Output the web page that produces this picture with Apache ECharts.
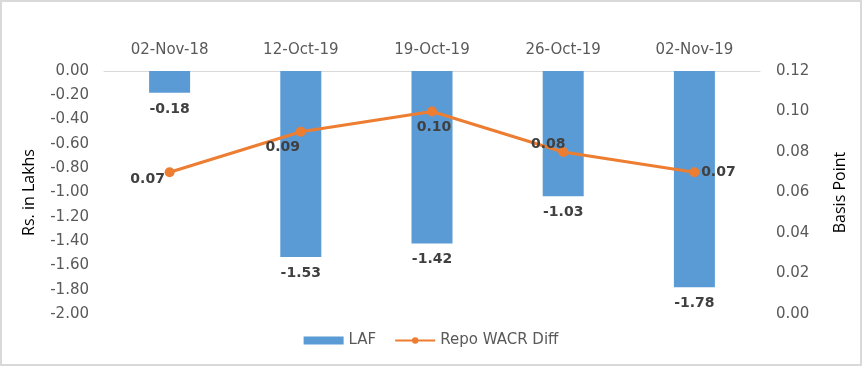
<!DOCTYPE html>
<html>
<head>
<meta charset="utf-8">
<script src="https://cdn.jsdelivr.net/npm/echarts@6/dist/echarts.min.js"></script>
<style>
html,body{margin:0;padding:0;background:#fff;}
#wrap{position:absolute;left:0;top:0;width:858px;height:362px;border:2px solid #d9d9d9;}
#chart{width:858px;height:362px;}
</style>
</head>
<body>
<div id="wrap"><div id="chart"></div></div>
<script>
const categories = ['02-Nov-18', '12-Oct-19', '19-Oct-19', '26-Oct-19', '02-Nov-19'];
const lafValues = [-0.18, -1.53, -1.42, -1.03, -1.78];
const repoWacrDiff = [0.07, 0.09, 0.10, 0.08, 0.07];
const leftTicks = { min: -2.0, max: 0, interval: 0.2 };
const rightTicks = { min: 0, max: 0.12, interval: 0.02 };

const lineLabelOffsets = [[-22, 7], [-18, 16], [2, 16], [-15, -8], [24, 0]];

const font = 'DejaVu Sans';
const titleFont = 'Open Sans';
const chart = echarts.init(document.getElementById('chart'), null, {renderer: 'canvas'});
chart.setOption({
  animation: false,
  textStyle: { fontFamily: font },
  grid: { left: 102, right: 100, top: 69, bottom: 50 },
  legend: {
    bottom: 11, left: 'center', itemGap: 18, itemWidth: 40, itemHeight: 8,
    textStyle: { fontFamily: font, fontSize: 15, color: '#595959' },
    data: [
      { name: 'LAF', icon: 'rect' },
      { name: 'Repo WACR Diff' }
    ]
  },
  xAxis: {
    type: 'category', position: 'top', data: categories,
    axisLine: { show: true, lineStyle: { color: '#d9d9d9', width: 1 } },
    axisTick: { show: false },
    axisLabel: { color: '#595959', fontSize: 15, margin: 13, fontFamily: font }
  },
  yAxis: [
    {
      type: 'value', min: leftTicks.min, max: leftTicks.max, interval: leftTicks.interval,
      name: 'Rs. in Lakhs', nameLocation: 'middle', nameGap: 67, nameRotate: 90,
      nameTextStyle: { fontSize: 16, color: '#000', fontFamily: titleFont },
      axisLine: { show: false }, axisTick: { show: false }, splitLine: { show: false },
      axisLabel: { color: '#595959', fontSize: 15, margin: 15, fontFamily: font,
        formatter: v => v.toFixed(2) }
    },
    {
      type: 'value', min: rightTicks.min, max: rightTicks.max, interval: rightTicks.interval,
      name: 'Basis Point', nameLocation: 'middle', nameGap: 72, nameRotate: 90,
      nameTextStyle: { fontSize: 16, color: '#000', fontFamily: titleFont },
      axisLine: { show: false }, axisTick: { show: false }, splitLine: { show: false },
      axisLabel: { color: '#595959', fontSize: 15, margin: 16, fontFamily: font,
        formatter: v => v.toFixed(2) }
    }
  ],
  series: [
    {
      name: 'LAF', type: 'bar', yAxisIndex: 0, data: lafValues,
      barWidth: 41,
      itemStyle: { color: '#5b9bd5' },
      label: { show: true, position: 'bottom', distance: 9, fontWeight: 'bold', fontSize: 14,
        color: '#404040', fontFamily: font, formatter: p => p.value.toFixed(2) }
    },
    {
      name: 'Repo WACR Diff', type: 'line', yAxisIndex: 1,
      data: repoWacrDiff.map((v, i) => ({
        value: v,
        label: { position: 'inside', offset: lineLabelOffsets[i] }
      })),
      symbol: 'circle', symbolSize: 10,
      lineStyle: { color: '#ed7d31', width: 3 },
      itemStyle: { color: '#ed7d31' },
      label: { show: true, fontWeight: 'bold', fontSize: 14, color: '#404040', fontFamily: font,
        formatter: p => p.value.toFixed(2) }
    }
  ]
});
</script>
</body>
</html>
